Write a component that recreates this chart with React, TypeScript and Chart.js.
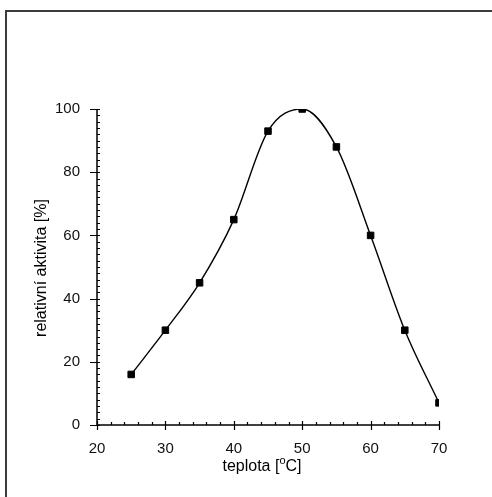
import React, { useEffect, useRef } from "react";
import { Chart, registerables } from "chart.js";

Chart.register(...registerables);

const temperatures = [25, 30, 35, 40, 45, 50, 55, 60, 65, 70];
const activity = [16, 30, 45, 65, 93, 100, 88, 60, 30, 7];
const xTitlePre = "teplota [";
const xTitleSup = "o";
const xTitlePost = "C]";
const yTitle = "relativní aktivita [%]";
const FONT = "'Liberation Sans', Arial, sans-serif";

const axisPlugin = {
  id: "excelAxes",
  afterDraw(chart: any) {
    const { ctx, chartArea, scales } = chart;
    const xs = scales.x;
    const ys = scales.y;
    const L = chartArea.left;
    const B = chartArea.bottom;
    ctx.save();
    ctx.strokeStyle = "#000";
    ctx.lineWidth = 1.5;
    ctx.beginPath();
    ctx.moveTo(L, ys.getPixelForValue(100));
    ctx.lineTo(L, B);
    ctx.lineTo(xs.getPixelForValue(70), B);
    ctx.stroke();
    ctx.lineWidth = 1.2;
    ctx.beginPath();
    for (let v = 0; v <= 100; v += 2) {
      const y = Math.round(ys.getPixelForValue(v)) + 0.5;
      if (v % 20 === 0) {
        ctx.moveTo(L - 7, y);
        ctx.lineTo(L + 3, y);
      } else {
        ctx.moveTo(L, y);
        ctx.lineTo(L + 3, y);
      }
    }
    for (let v = 20; v <= 70; v += 2) {
      const x = Math.round(xs.getPixelForValue(v)) + 0.5;
      if (v % 10 === 0) {
        ctx.moveTo(x, B - 4);
        ctx.lineTo(x, B + 5);
      } else {
        ctx.moveTo(x, B - 3);
        ctx.lineTo(x, B);
      }
    }
    ctx.stroke();

    // axis titles
    ctx.fillStyle = "#000";
    ctx.font = `16px ${FONT}`;
    ctx.textBaseline = "middle";
    ctx.textAlign = "left";
    const supFont = `11px ${FONT}`;
    const w1 = ctx.measureText(xTitlePre).width;
    const w3 = ctx.measureText(xTitlePost).width;
    ctx.font = supFont;
    const w2 = ctx.measureText(xTitleSup).width;
    const total = w1 + w2 + w3;
    const cx = 262;
    const cy = 467;
    const x0 = cx - total / 2;
    ctx.font = `16px ${FONT}`;
    ctx.fillText(xTitlePre, x0, cy);
    ctx.font = supFont;
    ctx.fillText(xTitleSup, x0 + w1, cy - 6);
    ctx.font = `16px ${FONT}`;
    ctx.fillText(xTitlePost, x0 + w1 + w2, cy);

    ctx.translate(42, 268);
    ctx.rotate(-Math.PI / 2);
    ctx.textAlign = "center";
    ctx.fillText(yTitle, 0, 0);
    ctx.restore();
  },
};

export default function App() {
  const ref = useRef<HTMLCanvasElement>(null);
  useEffect(() => {
    if (!ref.current) return;
    const chart = new Chart(ref.current, {
      type: "line",
      data: {
        datasets: [
          {
            data: temperatures.map((t, i) => ({ x: t, y: activity[i] })),
            borderColor: "#000",
            borderWidth: 1.4,
            backgroundColor: "#000",
            pointStyle: "rect",
            pointRadius: 4.6,
            pointBorderWidth: 1,
            pointBackgroundColor: "#000",
            pointBorderColor: "#000",
            cubicInterpolationMode: "monotone",
            fill: false,
          },
        ],
      },
      options: {
        animation: false,
        responsive: false,
        devicePixelRatio: 1,
        layout: { padding: { left: 0, top: 109, right: 53, bottom: 0 } },
        plugins: { legend: { display: false }, tooltip: { enabled: false } },
        scales: {
          x: {
            type: "linear",
            min: 20,
            max: 70,
            grid: { display: false, drawTicks: false },
            border: { display: false },
            ticks: {
              stepSize: 10,
              padding: 15,
              color: "#111",
              font: { family: FONT, size: 15 },
            },
            afterFit: (s: any) => {
              s.height = 72;
            },
          },
          y: {
            type: "linear",
            min: 0,
            max: 100,
            grid: { display: false, drawTicks: false },
            border: { display: false },
            ticks: {
              stepSize: 20,
              padding: 17,
              color: "#111",
              font: { family: FONT, size: 15 },
            },
            afterFit: (s: any) => {
              s.width = 97;
            },
          },
        },
      },
      plugins: [axisPlugin],
    });
    return () => chart.destroy();
  }, []);

  return (
    <div
      style={{
        position: "fixed",
        left: 0,
        top: 0,
        width: 492,
        height: 497,
        overflow: "hidden",
        background: "#fff",
      }}
    >
      <div
        style={{
          position: "absolute",
          left: 5,
          top: 10,
          width: 700,
          height: 700,
          border: "2px solid #3c3c3c",
          boxSizing: "border-box",
        }}
      />
      <canvas
        ref={ref}
        width={492}
        height={497}
        style={{ position: "absolute", left: 0, top: 0, width: 492, height: 497 }}
      />
    </div>
  );
}
